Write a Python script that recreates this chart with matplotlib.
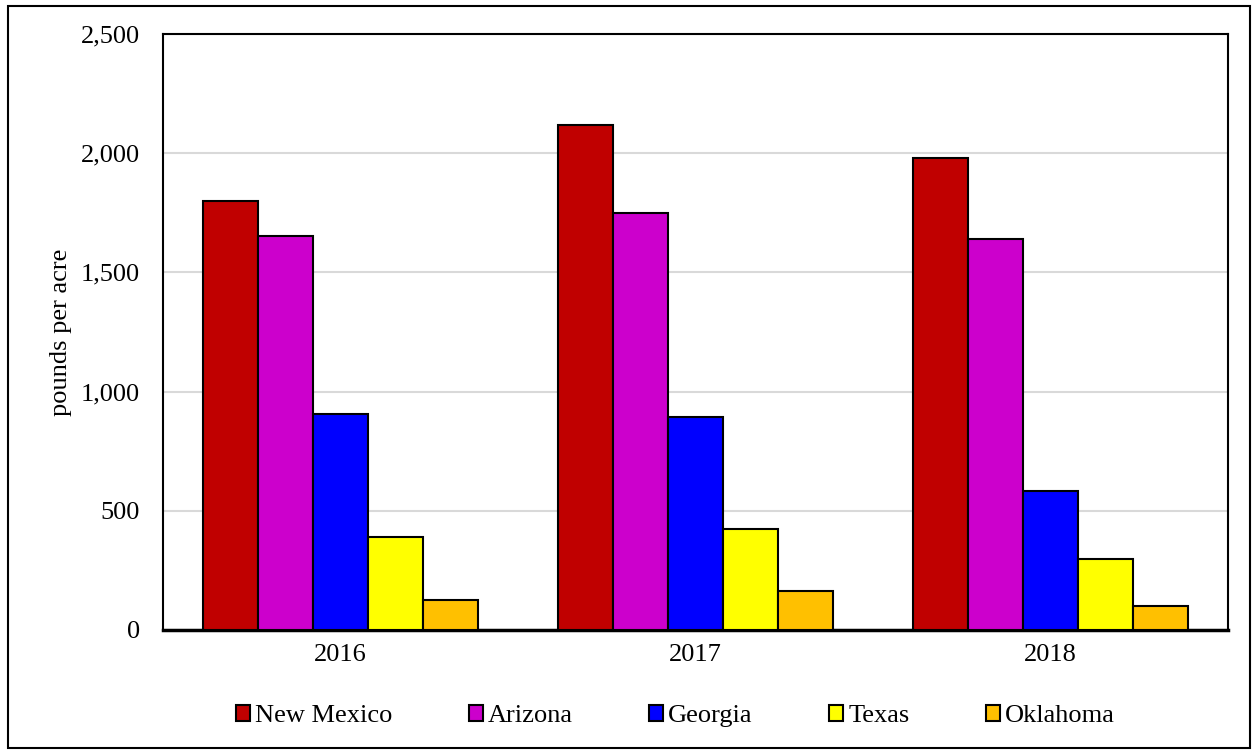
import matplotlib.pyplot as plt
import numpy as np
from matplotlib.patches import Rectangle

# data
years = ['2016', '2017', '2018']
states = ['New Mexico', 'Arizona', 'Georgia', 'Texas', 'Oklahoma']
new_mexico = [1800, 2118, 1980]
arizona = [1651, 1750, 1640]
georgia = [907, 892, 582]
texas = [389, 423, 299]
oklahoma = [127, 162, 99]
colors = ['#c00000', '#cc00cc', '#0000ff', '#ffff00', '#ffc000']

plt.rcParams['font.family'] = ['Liberation Serif', 'DejaVu Serif']

fig = plt.figure(figsize=(12.52, 7.5), dpi=100)
ax = fig.add_axes([0.130, 0.16, 0.851, 0.795])

series = [new_mexico, arizona, georgia, texas, oklahoma]
x = np.arange(len(years))
w = 0.155
for i, (name, vals) in enumerate(zip(states, series)):
    ax.bar(x + (i - 2) * w, vals, width=w, color=colors[i], edgecolor='black',
           linewidth=1.5, label=name, zorder=3)

ax.set_xlim(-0.5, 2.5)
ax.set_ylim(0, 2500)
ax.set_yticks(range(0, 2501, 500))
ax.set_yticklabels([f'{v:,}' for v in range(0, 2501, 500)])
ax.set_xticks(x)
ax.set_xticklabels(years)
ax.tick_params(axis='both', length=0, labelsize=19, pad=10)
ax.tick_params(axis='y', pad=16.5)
ax.yaxis.grid(True, color='#d9d9d9', linewidth=1.5, zorder=0)
ax.set_axisbelow(True)
for s in ['top', 'left', 'right']:
    ax.spines[s].set_linewidth(1.5)
ax.spines['bottom'].set_linewidth(2.5)
ax.set_ylabel('pounds per acre', fontsize=19, labelpad=6)

ax.legend(loc='center', bbox_to_anchor=(0.481, -0.144), ncol=5, frameon=False,
          fontsize=19, handlelength=0.53, handleheight=0.57, handletextpad=0.19,
          columnspacing=2.9)

fig.patches.append(Rectangle((0.0064, 0.0027), 0.992, 0.989, transform=fig.transFigure,
                             fill=False, edgecolor='black', linewidth=1.5))

fig.savefig('out.png', dpi=100)
